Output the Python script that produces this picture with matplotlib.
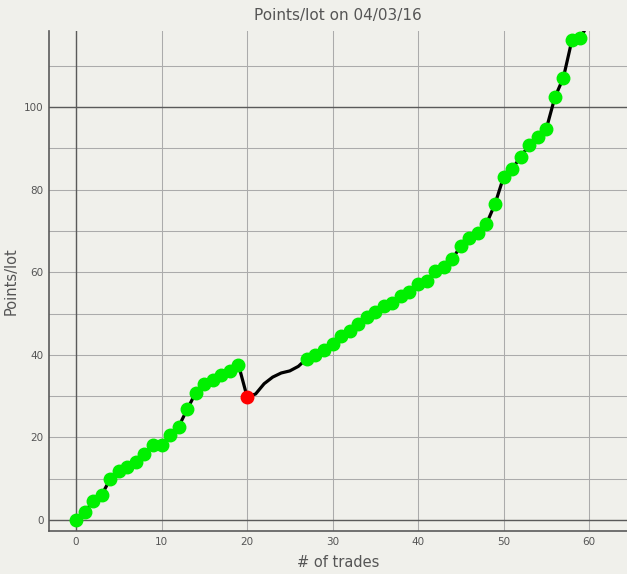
import numpy as np
import matplotlib
matplotlib.use("Agg")
import matplotlib.pyplot as plt
from matplotlib.ticker import MultipleLocator

# points/lot after each trade
trades = np.arange(0, 61)
points = np.array([
    0.0, 1.9, 4.5, 6.1, 9.9, 11.8, 12.8, 14.0, 16.0, 18.1,
    18.1, 20.7, 22.6, 26.8, 30.8, 32.9, 33.8, 35.1, 36.1, 37.6,
    29.9, 30.5, 33.0, 34.6, 35.6, 36.1, 37.2, 39.1, 40.0, 41.2,
    42.7, 44.5, 45.8, 47.4, 49.2, 50.4, 51.7, 52.5, 54.3, 55.1,
    57.1, 57.9, 60.3, 61.3, 63.1, 66.4, 68.4, 69.5, 71.7, 76.5,
    83.0, 84.9, 88.0, 90.7, 92.7, 94.7, 102.3, 107.1, 116.2, 116.8,
    120.5,
])
# trades drawn with a green dot, and the one losing trade in red
green_idx = [i for i in range(60) if i != 20 and not (21 <= i <= 26)]
red_idx = [20]

bg = '#f0f0eb'
fig = plt.figure(figsize=(6.27, 5.74), dpi=100, facecolor=bg)
ax = fig.add_axes([49 / 627, 43 / 574, 578 / 627, 500 / 574], facecolor=bg)
ax.set_axisbelow(True)

ax.plot(trades, points, color='black', lw=2.3, zorder=3)
ax.plot(trades[green_idx], points[green_idx], 'o', color='#00f000',
        markersize=9, zorder=4)
ax.plot(trades[red_idx], points[red_idx], 'o', color='#ff0000',
        markersize=9, zorder=4)

ax.set_xlim(-3.16, 64.44)
ax.set_ylim(-2.66, 118.4)
ax.xaxis.set_major_locator(MultipleLocator(10))
ax.yaxis.set_major_locator(MultipleLocator(20))
ax.yaxis.set_minor_locator(MultipleLocator(10))
ax.grid(True, which='both', color='#ababab', lw=0.75)

# darker reference lines
ax.axvline(0, color='#5a5a5a', lw=1.0, zorder=1)
ax.axhline(0, color='#5a5a5a', lw=1.0, zorder=1)
ax.axhline(100, color='#5a5a5a', lw=1.0, zorder=1)

for s in ['top', 'right']:
    ax.spines[s].set_visible(False)
for s in ['left', 'bottom']:
    ax.spines[s].set_color('#5a5a5a')
    ax.spines[s].set_linewidth(1.2)

ax.tick_params(which='both', length=0, colors='#555555', labelsize=7.5, pad=4)

ax.set_title('Points/lot on 04/03/16', color='#555555', fontsize=11, pad=8)
ax.set_xlabel('# of trades', color='#555555', fontsize=10.5, labelpad=6)
ax.set_ylabel('Points/lot', color='#555555', fontsize=10.5, labelpad=4)

fig.savefig('out.png', dpi=100, facecolor=bg)
